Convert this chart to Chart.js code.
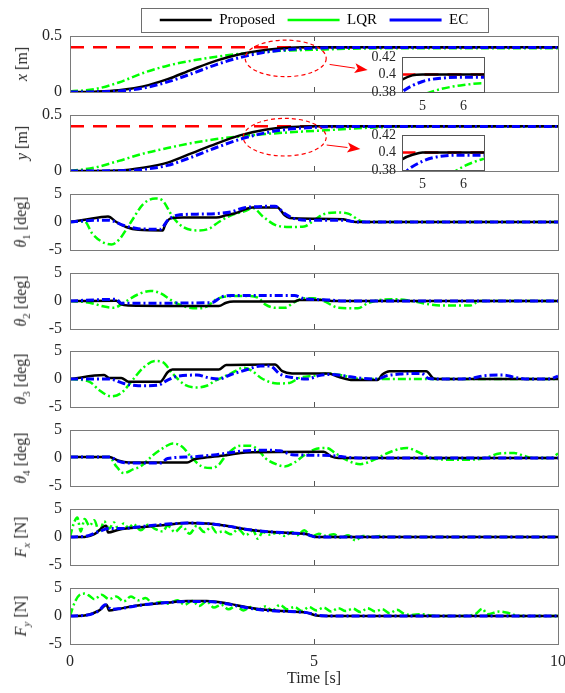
<!DOCTYPE html>
<html>
<head>
<meta charset="utf-8">
<script src="https://cdn.jsdelivr.net/npm/chart.js@4.4.1/dist/chart.umd.min.js"></script>
<style>
body { margin: 0; background: #fff; width: 565px; height: 693px; overflow: hidden; position: relative; font-family: "Liberation Serif", serif; }
canvas { position: absolute; }
.ylab { position: absolute; left: 22px; transform: translate(-50%, -50%) rotate(-90deg); white-space: nowrap; font-size: 16px; color: #262626; }
.ylab sub { font-size: 11px; }
</style>
</head>
<body>
<script>
// ticks
const xTicks = [0, 5, 10];
const posTicks = [0, 0.5];
const angTicks = [-5, 0, 5];
const insetXTicks = [5, 6];
const insetYTicks = [0.38, 0.4, 0.42];

// x position [m]  ([time, value])
const x_Proposed = [[0,0],[0.5,0.003],[1,0.015],[1.5,0.05],[2,0.115],[2.5,0.2],[3,0.28],[3.5,0.34],[4,0.376],[4.5,0.394],[4.75,0.399],[5,0.4],[10,0.4]];
const x_LQR = [[0,0.005],[0.5,0.025],[1,0.085],[1.5,0.17],[2,0.235],[2.5,0.28],[3,0.315],[3.5,0.342],[4,0.36],[4.5,0.371],[5,0.377],[5.5,0.384],[6,0.388],[6.5,0.39],[10,0.39]];
const x_EC = [[0,0],[0.5,0.001],[1,0.008],[1.5,0.035],[2,0.09],[2.5,0.165],[3,0.245],[3.5,0.31],[4,0.355],[4.5,0.38],[5,0.392],[5.5,0.396],[6,0.397],[10,0.397]];
const x_Ref = [[0,0.4],[10,0.4]];

// y position [m]
const y_Proposed = [[0,0],[1,0.005],[1.5,0.03],[2,0.075],[2.5,0.16],[3,0.245],[3.5,0.32],[4,0.368],[4.5,0.392],[4.8,0.398],[5,0.4],[10,0.4]];
const y_LQR = [[0,0],[0.5,0.03],[1,0.09],[1.5,0.155],[2,0.205],[2.5,0.25],[3,0.285],[3.5,0.31],[4,0.33],[4.5,0.345],[5,0.358],[5.5,0.37],[6,0.384],[6.5,0.393],[7,0.398],[8,0.4],[10,0.4]];
const y_EC = [[0,0],[1,0.002],[1.5,0.015],[2,0.05],[2.5,0.125],[3,0.21],[3.5,0.285],[4,0.34],[4.5,0.374],[5,0.39],[5.5,0.396],[6,0.397],[10,0.397]];
const y_Ref = [[0,0.4],[10,0.4]];

// theta1 [deg]
const th1_Proposed = [[0,0],[0.3,0.4],[0.78,1.0],[0.95,0],[1.15,-0.9],[1.4,-1.4],[1.9,-1.5],[1.95,-0.5],[2.05,0.6],[2.3,0.8],[3,0.8],[3.2,1.2],[3.4,1.6],[3.6,2.3],[3.75,2.6],[4.25,2.6],[4.4,1.2],[4.5,0.7],[5,0.6],[5.6,0.5],[5.85,0],[10,0]];
const th1_LQR = [[0,0],[0.3,0.1],[0.45,-2.0],[0.65,-3.5],[0.85,-4.0],[1.0,-3.2],[1.25,0],[1.5,3.2],[1.75,4.2],[1.9,3.8],[2.1,1.0],[2.3,-0.8],[2.6,-1.5],[2.85,-1.2],[3.05,0],[3.3,1.2],[3.6,2.0],[3.75,2.5],[3.95,1.0],[4.2,-0.5],[4.5,-0.9],[4.8,-0.8],[5.0,0.3],[5.2,1.4],[5.5,1.7],[5.7,1.5],[5.95,0.2],[6.1,0],[10,0]];
const th1_EC = [[0,0],[0.5,0.3],[0.8,0.3],[1.1,-0.6],[1.4,-1.2],[1.85,-1.3],[2.0,0.3],[2.2,1.2],[2.6,1.4],[3.0,1.5],[3.3,1.8],[3.6,2.6],[4.2,2.8],[4.4,1.5],[4.6,0.6],[5.0,0.3],[5.6,0.3],[5.9,0],[10,0]];

// theta2 [deg]
const th2_Proposed = [[0,0],[0.95,0.05],[1.05,-0.6],[1.2,-0.8],[3.05,-0.9],[3.2,-0.3],[3.35,-0.1],[4.6,-0.1],[4.7,0.2],[5.2,0.2],[5.4,0],[10,0]];
const th2_LQR = [[0,0],[0.4,-0.3],[0.7,-1.0],[0.9,-1.2],[1.1,-0.3],[1.4,1.2],[1.65,1.8],[1.85,1.4],[2.1,0],[2.35,-1.0],[2.6,-1.3],[2.8,-1.0],[3.0,0.3],[3.2,0.8],[3.6,0.9],[3.85,0.6],[4.0,-0.6],[4.2,-1.2],[4.4,-1.2],[4.6,-0.2],[4.8,0.5],[5.0,0.5],[5.2,0],[5.5,-1.2],[5.9,-1.3],[6.1,-0.4],[6.35,0.2],[6.7,0.3],[7.0,0],[7.3,-0.5],[7.6,-0.8],[8.2,-0.8],[8.4,0],[10,0]];
const th2_EC = [[0,0],[0.5,0.2],[0.95,0.3],[1.05,-0.4],[2.9,-0.3],[3.1,0.7],[3.3,1.0],[4.6,1.0],[4.8,0.4],[5.3,0.2],[5.6,0],[10,0]];

// theta3 [deg]
const th3_Proposed = [[0,0],[0.7,0.7],[0.8,0.2],[1.05,0.2],[1.2,-0.5],[1.85,-0.5],[2.0,1.2],[2.1,1.7],[3.05,1.7],[3.2,2.5],[4.2,2.6],[4.35,1.4],[4.55,1.0],[5.3,1.0],[5.5,0.4],[5.8,-0.2],[6.3,-0.2],[6.4,0.8],[6.55,1.4],[7.3,1.4],[7.45,0.1],[7.6,0],[10,0]];
const th3_LQR = [[0,0],[0.4,-0.5],[0.6,-2.0],[0.85,-3.1],[1.05,-2.5],[1.3,0],[1.5,2.0],[1.75,3.2],[1.9,3.0],[2.1,1.0],[2.35,-1.0],[2.6,-1.5],[2.8,-1.2],[3.0,-0.2],[3.3,1.0],[3.55,2.0],[3.7,1.6],[3.95,0],[4.25,-0.8],[4.5,-0.7],[4.7,0.2],[5.0,0.6],[5.3,1.0],[5.6,0.6],[5.8,0.2],[6.0,0],[10,0]];
const th3_EC = [[0,0],[0.8,0],[1.1,-0.8],[1.4,-1.2],[1.8,-1.1],[2.0,-0.2],[2.2,0.5],[2.6,0.7],[2.85,0.2],[3.05,0],[3.3,0.8],[3.6,1.6],[3.9,2.3],[4.1,2.3],[4.3,0.9],[4.6,0.2],[4.85,0],[5.1,0.6],[5.3,0.8],[5.6,0.6],[5.9,0.2],[6.3,0],[6.5,0.6],[6.8,0.9],[7.2,1.0],[7.35,0.1],[7.6,0],[8.2,0.1],[8.5,0.6],[8.9,0.7],[9.1,0.3],[9.4,0],[9.8,0],[10,0.5]];

// theta4 [deg]
const th4_Proposed = [[0,0.2],[0.8,0.2],[1.0,-0.5],[1.2,-0.8],[2.4,-0.8],[2.55,-0.2],[2.7,0],[3.2,0.5],[3.6,1.0],[5.2,1.1],[5.35,0.3],[5.5,0],[10,0]];
const th4_LQR = [[0,0.2],[0.8,0.2],[0.95,-1.5],[1.1,-2.7],[1.3,-2.0],[1.45,-1.5],[1.7,0.5],[1.95,2.0],[2.1,2.6],[2.3,2.0],[2.5,0],[2.7,-1.5],[2.9,-1.8],[3.05,-1.2],[3.2,0.5],[3.5,2.2],[3.7,2.2],[3.85,1.5],[4.0,0],[4.25,-1.2],[4.4,-1.5],[4.6,-0.8],[4.8,0.5],[5.0,1.5],[5.25,1.8],[5.45,0.8],[5.7,-0.5],[5.95,-1.1],[6.1,-0.8],[6.3,0],[6.6,1.2],[6.9,1.8],[7.1,1.2],[7.4,0],[7.8,-0.3],[8.2,-0.3],[8.5,0],[8.8,0.8],[9.1,0.9],[9.3,0.4],[9.5,0],[9.85,0],[10,0.8]];
const th4_EC = [[0,0.2],[0.8,0.2],[1.0,-0.6],[1.2,-0.9],[1.85,-0.9],[2.0,-0.1],[2.5,0.2],[3.0,0.6],[3.5,1.2],[3.9,1.4],[4.3,1.3],[4.55,0.6],[5.0,0.5],[5.4,0.4],[5.7,0.1],[6.0,0],[10,0]];

// Fx [N]
const fx_Proposed = [[0,0],[0.3,0],[0.5,0.5],[0.74,2.0],[0.78,0.8],[1.0,1.3],[1.5,1.8],[2.0,2.2],[2.4,2.5],[2.8,2.4],[3.2,2.0],[3.6,1.4],[4.0,1.0],[4.5,0.7],[4.85,0.5],[5.05,0],[10,0]];
const fx_LQR = [[0,0],[0.08,2.5],[0.15,3.5],[0.22,1.0],[0.3,3.2],[0.4,2.0],[0.5,3.0],[0.6,0.8],[0.7,2.8],[0.8,1.5],[0.9,2.6],[1.0,1.3],[1.1,2.4],[1.2,1.6],[1.3,2.3],[1.45,1.2],[1.6,2.2],[1.75,1.4],[1.9,1.0],[2.0,2.0],[2.15,0.9],[2.3,1.9],[2.45,0.6],[2.6,2.0],[2.75,0.9],[2.9,1.8],[3.0,0.8],[3.15,1.0],[3.3,0.5],[3.45,1.4],[3.6,0.3],[3.75,1.2],[3.85,-0.3],[3.95,0.9],[4.1,0.4],[4.25,0.8],[4.4,0.2],[4.55,0.9],[4.65,0.3],[4.8,1.2],[4.95,0.1],[5.1,0.6],[5.25,0.2],[5.4,0.5],[5.55,-0.1],[5.7,0.3],[5.85,-0.6],[6.0,0.2],[6.2,0],[6.35,0.2],[6.5,0],[10,0]];
const fx_EC = [[0,0],[0.3,0.1],[0.6,1.0],[0.78,1.5],[1.0,1.5],[1.5,1.9],[2.0,2.3],[2.4,2.5],[2.8,2.4],[3.2,2.0],[3.6,1.4],[4.0,1.0],[4.5,0.7],[4.85,0.5],[5.05,0],[10,0]];

// Fy [N]
const fy_Proposed = [[0,0],[0.3,0.1],[0.6,1.0],[0.75,2.0],[0.8,1.0],[1.0,1.3],[1.5,2.0],[2.0,2.4],[2.4,2.7],[2.8,2.7],[3.2,2.3],[3.6,1.6],[4.0,1.1],[4.5,0.8],[4.85,0.6],[5.05,0.1],[5.3,0],[10,0]];
const fy_LQR = [[0,0],[0.1,2.5],[0.2,3.8],[0.3,4.0],[0.4,3.6],[0.5,3.0],[0.65,3.8],[0.8,3.0],[0.95,3.5],[1.1,2.6],[1.25,3.5],[1.4,2.8],[1.55,3.2],[1.7,2.2],[1.85,2.5],[2.0,2.2],[2.2,2.8],[2.35,2.0],[2.5,2.7],[2.65,1.8],[2.8,2.6],[2.95,1.5],[3.1,2.0],[3.25,1.2],[3.4,1.8],[3.55,1.0],[3.7,1.6],[3.85,1.1],[4.0,1.7],[4.15,1.0],[4.3,2.0],[4.45,1.2],[4.6,1.6],[4.75,0.9],[4.9,1.6],[5.05,1.0],[5.2,1.5],[5.35,0.8],[5.5,1.4],[5.65,0.9],[5.8,1.3],[5.95,0.7],[6.1,1.4],[6.25,0.8],[6.4,1.2],[6.55,0.5],[6.7,1.1],[6.85,0.4],[7.0,0.2],[7.2,0.3],[7.5,0],[8.0,0],[8.3,0.3],[8.45,1.3],[8.55,0.3],[8.8,0.8],[9.0,0.5],[9.2,0],[10,0]];
const fy_EC = [[0,0],[0.3,0.1],[0.6,1.0],[0.72,2.0],[0.85,1.2],[1.0,1.3],[1.5,2.0],[2.0,2.4],[2.4,2.6],[2.8,2.6],[3.2,2.2],[3.6,1.5],[4.0,1.0],[4.5,0.8],[4.85,0.6],[5.1,0.1],[5.3,0],[10,0]];

// zoom markers: [centre t, centre value, radius t, radius value] and arrow [t0, v0, t1, v1]
const xEllipse = [4.42, 0.30, 0.83, 0.163];
const xArrow = [5.32, 0.246, 6.1, 0.196];
const yEllipse = [4.4, 0.302, 0.85, 0.168];
const yArrow = [5.26, 0.232, 5.95, 0.196];

const FONT = "'Liberation Serif', 'Times New Roman', serif";
const TXT = '#262626';
const PLOT_L = 70, PLOT_R = 558, PLOT_H = 56;
const panelTop = i => Math.round(36 + i * 78.86);
const fmt = v => String(Math.round(v * 100) / 100);

const panels = [
  { label: '<i>x</i> [m]', yMin: 0, yMax: 0.5, yTicks: posTicks, series: [x_Proposed, x_LQR, x_EC], ref: x_Ref, note: { ellipse: xEllipse, arrow: xArrow }, insetTop: 57 },
  { label: '<i>y</i> [m]', yMin: 0, yMax: 0.5, yTicks: posTicks, series: [y_Proposed, y_LQR, y_EC], ref: y_Ref, note: { ellipse: yEllipse, arrow: yArrow }, insetTop: 135 },
  { label: '<i>θ</i><sub>1</sub> [deg]', yMin: -5, yMax: 5, yTicks: angTicks, series: [th1_Proposed, th1_LQR, th1_EC] },
  { label: '<i>θ</i><sub>2</sub> [deg]', yMin: -5, yMax: 5, yTicks: angTicks, series: [th2_Proposed, th2_LQR, th2_EC] },
  { label: '<i>θ</i><sub>3</sub> [deg]', yMin: -5, yMax: 5, yTicks: angTicks, series: [th3_Proposed, th3_LQR, th3_EC] },
  { label: '<i>θ</i><sub>4</sub> [deg]', yMin: -5, yMax: 5, yTicks: angTicks, series: [th4_Proposed, th4_LQR, th4_EC] },
  { label: '<i>F<sub>x</sub></i> [N]', yMin: -5, yMax: 5, yTicks: angTicks, series: [fx_Proposed, fx_LQR, fx_EC] },
  { label: '<i>F<sub>y</sub></i> [N]', yMin: -5, yMax: 5, yTicks: angTicks, series: [fy_Proposed, fy_LQR, fy_EC] },
];

const pts = arr => arr.map(([x, y]) => ({ x, y }));

function line(label, data, color, dash, width, order) {
  return {
    label, data: pts(data), borderColor: color, backgroundColor: color,
    borderDash: dash, borderWidth: width, order,
    pointRadius: 0, fill: false, cubicInterpolationMode: 'monotone',
    borderJoinStyle: 'round', borderCapStyle: 'butt'
  };
}

function datasetsFor(p) {
  const ds = [
    line('Proposed', p.series[0], '#000000', [], 2.5, 2),
    line('LQR', p.series[1], '#00ff00', [8, 3, 2, 3], 2.5, 3),
    line('EC', p.series[2], '#0000ff', [8, 3, 2, 3], 3, 1),
  ];
  if (p.ref) ds.push(line('Reference', p.ref, '#ff0000', [14, 9], 2.5, 4));
  return ds;
}

function addCanvas(left, top, w, h) {
  const c = document.createElement('canvas');
  c.width = w; c.height = h;
  c.style.left = left + 'px'; c.style.top = top + 'px';
  c.style.width = w + 'px'; c.style.height = h + 'px';
  document.body.appendChild(c);
  return c;
}

const framePlugin = {
  id: 'frame',
  beforeDraw(chart, args, o) {
    if (o.fill) {
      const a = chart.chartArea;
      chart.ctx.save();
      chart.ctx.fillStyle = '#ffffff';
      chart.ctx.fillRect(a.left, a.top, a.width, a.height);
      chart.ctx.restore();
    }
  },
  afterDatasetsDraw(chart, args, o) {
    const { ctx, chartArea: a } = chart;
    ctx.save();
    ctx.strokeStyle = o.color || '#7a7a7a';
    ctx.lineWidth = 1;
    ctx.strokeRect(Math.round(a.left) + 0.5, Math.round(a.top) + 0.5, Math.round(a.width), Math.round(a.height));
    ctx.restore();
  }
};

const notePlugin = {
  id: 'note',
  afterDatasetsDraw(chart, args, o) {
    if (!o || !o.ellipse) return;
    const xs = chart.scales.x, ys = chart.scales.y, ctx = chart.ctx;
    const [cx, cy, rx, ry] = o.ellipse;
    const px = xs.getPixelForValue(cx), py = ys.getPixelForValue(cy);
    const prx = xs.getPixelForValue(cx + rx) - px;
    const pry = py - ys.getPixelForValue(cy + ry);
    ctx.save();
    ctx.strokeStyle = '#ff0000'; ctx.fillStyle = '#ff0000';
    ctx.lineWidth = 1.2; ctx.setLineDash([4, 3]);
    ctx.beginPath(); ctx.ellipse(px, py, prx, pry, 0, 0, Math.PI * 2); ctx.stroke();
    const [t0, v0, t1, v1] = o.arrow;
    const ax0 = xs.getPixelForValue(t0), ay0 = ys.getPixelForValue(v0);
    const ax1 = xs.getPixelForValue(t1), ay1 = ys.getPixelForValue(v1);
    const ang = Math.atan2(ay1 - ay0, ax1 - ax0);
    const hl = 13, hw = 5;
    const bx = ax1 - Math.cos(ang) * hl, by = ay1 - Math.sin(ang) * hl;
    ctx.setLineDash([]); ctx.lineWidth = 1;
    ctx.beginPath(); ctx.moveTo(ax0, ay0); ctx.lineTo(bx, by); ctx.stroke();
    ctx.beginPath();
    ctx.moveTo(ax1, ay1);
    ctx.lineTo(bx - Math.sin(ang) * hw, by + Math.cos(ang) * hw);
    ctx.lineTo(bx + Math.cos(ang) * 3, by + Math.sin(ang) * 3);
    ctx.lineTo(bx + Math.sin(ang) * hw, by - Math.cos(ang) * hw);
    ctx.closePath(); ctx.fill();
    ctx.restore();
  }
};

const legendBoxPlugin = {
  id: 'legendBox',
  afterDraw(chart) {
    const lg = chart.legend;
    if (!lg || !lg.options.display || !lg.legendHitBoxes.length) return;
    const hb = lg.legendHitBoxes;
    const l = Math.min(...hb.map(b => b.left)) - 19;
    const r = Math.max(...hb.map(b => b.left + b.width)) + 19;
    const t = hb[0].top - 4.5, b = hb[0].top + hb[0].height + 4.5;
    const ctx = chart.ctx;
    ctx.save();
    ctx.strokeStyle = '#6e6e6e'; ctx.lineWidth = 1;
    ctx.strokeRect(Math.round(l) + 0.5, Math.round(t) + 0.5, Math.round(r - l), Math.round(b - t));
    ctx.restore();
  }
};

const setTicks = list => s => { s.ticks = list.map(v => ({ value: v })); };
// fixed box sizes, no extra room reserved for overhanging tick labels
const fitW = w => s => { s.width = w; s.paddingTop = 0; s.paddingBottom = 0; s.paddingLeft = 0; s.paddingRight = 0; };
const fitH = h => s => { s.height = h; s.paddingTop = 0; s.paddingBottom = 0; s.paddingLeft = 0; s.paddingRight = 0; };

panels.forEach((p, i) => {
  const last = i === panels.length - 1;
  const top = panelTop(i);
  const padTop = i === 0 ? 36 : 12;
  const xH = last ? 45 : (i < 2 ? 30 : 14);
  const h = padTop + PLOT_H + xH;
  const cv = addCanvas(0, top - padTop, 565, h);
  const tickGrid = { display: true, drawOnChartArea: false, drawTicks: true, tickLength: -5, color: '#555555', lineWidth: 1 };

  new Chart(cv, {
    type: 'line',
    data: { datasets: datasetsFor(p) },
    plugins: [framePlugin, notePlugin, legendBoxPlugin],
    options: {
      responsive: false,
      animation: false,
      events: [],
      layout: { autoPadding: false, padding: { top: i === 0 ? 0 : padTop, left: 0, right: 565 - PLOT_R, bottom: 0 } },
      plugins: {
        tooltip: { enabled: false },
        frame: { color: '#7a7a7a' },
        note: p.note || {},
        legend: i === 0 ? {
          display: true, position: 'top', fullSize: false, maxHeight: 36,
          labels: {
            usePointStyle: true, pointStyle: 'line', pointStyleWidth: 52, padding: 12.5,
            color: '#000000', font: { family: FONT, size: 15 },
            filter: item => item.text !== 'Reference',
            sort: (a, b) => a.datasetIndex - b.datasetIndex
          }
        } : { display: false }
      },
      scales: {
        x: {
          type: 'linear', position: 'bottom', min: 0, max: 10,
          afterBuildTicks: setTicks(xTicks),
          afterFit: fitH(xH),
          grid: tickGrid, border: { display: false },
          ticks: { display: last, autoSkip: false, font: { family: FONT, size: 16 }, color: TXT, padding: 13, maxRotation: 0, callback: fmt },
          title: { display: last, text: 'Time [s]', font: { family: FONT, size: 16 }, color: TXT, padding: { top: 0, bottom: 1 } }
        },
        x2: {
          type: 'linear', position: 'top', min: 0, max: 10,
          afterBuildTicks: setTicks(xTicks),
          afterFit: fitH(0),
          grid: tickGrid, border: { display: false },
          ticks: { display: false }
        },
        y: {
          type: 'linear', min: p.yMin, max: p.yMax,
          afterBuildTicks: setTicks(p.yTicks),
          afterFit: fitW(PLOT_L),
          grid: { display: false, drawTicks: false }, border: { display: false },
          ticks: { autoSkip: false, font: { family: FONT, size: 16 }, color: TXT, padding: 8, callback: fmt }
        }
      }
    }
  });

  const lab = document.createElement('div');
  lab.className = 'ylab';
  lab.innerHTML = p.label;
  lab.style.top = (top + PLOT_H / 2) + 'px';
  document.body.appendChild(lab);
});

// zoomed insets for x and y
panels.filter(p => p.insetTop).forEach(p => {
  const ins = { left: 402, w: 82, h: 35, yW: 42, pad: 9, xH: 24, right: 6 };
  const cv = addCanvas(ins.left - ins.yW, p.insetTop - ins.pad, ins.yW + ins.w + ins.right, ins.pad + ins.h + ins.xH);
  new Chart(cv, {
    type: 'line',
    data: { datasets: datasetsFor(p) },
    plugins: [framePlugin],
    options: {
      responsive: false, animation: false, events: [],
      layout: { autoPadding: false, padding: { top: ins.pad, left: 0, right: ins.right, bottom: 0 } },
      plugins: { legend: { display: false }, tooltip: { enabled: false }, frame: { color: '#555555', fill: true } },
      scales: {
        x: {
          type: 'linear', min: 4.5, max: 6.5,
          afterBuildTicks: setTicks(insetXTicks),
          afterFit: fitH(ins.xH),
          grid: { display: false, drawTicks: false }, border: { display: false },
          ticks: { autoSkip: false, font: { family: FONT, size: 14 }, color: TXT, padding: 6, maxRotation: 0, callback: fmt }
        },
        y: {
          type: 'linear', min: 0.38, max: 0.42,
          afterBuildTicks: setTicks(insetYTicks),
          afterFit: fitW(ins.yW),
          grid: { display: false, drawTicks: false }, border: { display: false },
          ticks: { autoSkip: false, font: { family: FONT, size: 14 }, color: TXT, padding: 6, callback: fmt }
        }
      }
    }
  });
});
</script>
</body>
</html>
